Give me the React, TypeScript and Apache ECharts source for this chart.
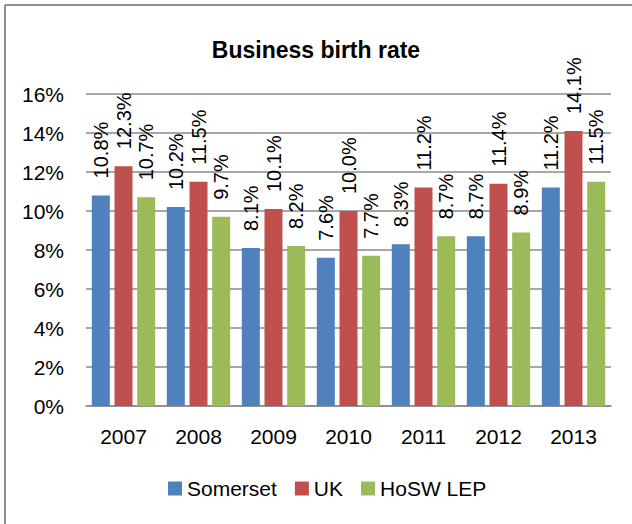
import React, { useEffect, useRef } from "react";
import * as echarts from "echarts";

const categories = ["2007", "2008", "2009", "2010", "2011", "2012", "2013"];
const somerset = [10.8, 10.2, 8.1, 7.6, 8.3, 8.7, 11.2];
const uk = [12.3, 11.5, 10.1, 10.0, 11.2, 11.4, 14.1];
const hosw = [10.7, 9.7, 8.2, 7.7, 8.7, 8.9, 11.5];
const seriesNames = ["Somerset", "UK", "HoSW LEP"];
const colors = ["#4F81BD", "#C0504D", "#9BBB59"];

const FONT = "Liberation Sans";

export default function App() {
  const ref = useRef<HTMLDivElement>(null);
  useEffect(() => {
    if (!ref.current) return;
    const chart = echarts.init(ref.current, null, { renderer: "svg" });
    const makeSeries = (name: string, data: number[], color: string) => ({
      name,
      type: "bar",
      data,
      barWidth: 18,
      barGap: "26%",
      itemStyle: { color },
      label: {
        show: true,
        position: "top",
        rotate: 90,
        align: "left",
        verticalAlign: "middle",
        distance: 17,
        color: "#000",
        fontFamily: FONT,
        fontSize: 20,
        formatter: (p: any) => `${Number(p.value).toFixed(1)}%`,
      },
    });
    chart.setOption({
      animation: false,
      backgroundColor: "#fff",
      title: {
        text: "Business birth rate",
        left: "center",
        top: 33,
        textStyle: { fontFamily: FONT, fontSize: 23, fontWeight: "bold", color: "#000" },
      },
      legend: {
        data: seriesNames,
        bottom: 20,
        left: 163,
        itemWidth: 14,
        itemHeight: 14,
        itemGap: 18,
        icon: "rect",
        textStyle: { fontFamily: FONT, fontSize: 21, color: "#000" },
      },
      grid: { left: 86, right: 21, top: 94, bottom: 118, containLabel: false },
      xAxis: {
        type: "category",
        data: categories,
        axisLine: { show: true, lineStyle: { color: "#8a8a8a", width: 1.5 } },
        axisTick: { show: false },
        axisLabel: { fontFamily: FONT, fontSize: 21, color: "#000", margin: 20 },
      },
      yAxis: {
        type: "value",
        min: 0,
        max: 16,
        interval: 2,
        axisLine: { show: false },
        axisTick: { show: false },
        splitLine: { lineStyle: { color: "#8a8a8a", width: 1.5 } },
        axisLabel: {
          fontFamily: FONT,
          fontSize: 21,
          color: "#000",
          margin: 22,
          formatter: (v: number) => `${v}%`,
        },
      },
      graphic: [
        { type: "line", shape: { x1: 5, y1: 5, x2: 632, y2: 5 }, style: { stroke: "#8e8e8e", lineWidth: 2 } },
        { type: "line", shape: { x1: 5, y1: 5, x2: 5, y2: 524 }, style: { stroke: "#8e8e8e", lineWidth: 2 } },
      ],
      series: [
        makeSeries(seriesNames[0], somerset, colors[0]),
        makeSeries(seriesNames[1], uk, colors[1]),
        makeSeries(seriesNames[2], hosw, colors[2]),
      ],
    });
    return () => chart.dispose();
  }, []);
  return (
    <div
      ref={ref}
      style={{ position: "fixed", left: 0, top: 0, width: 632, height: 524 }}
    />
  );
}
